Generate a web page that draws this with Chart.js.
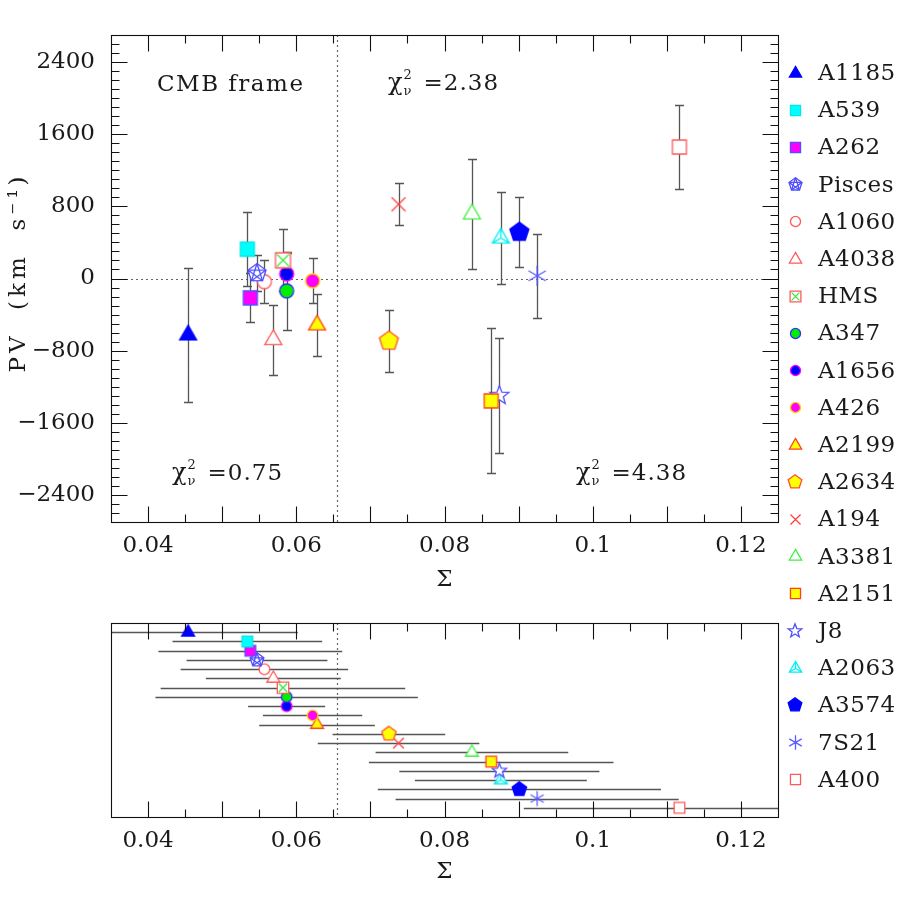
<!DOCTYPE html>
<html><head><meta charset="utf-8">
<script src="https://cdn.jsdelivr.net/npm/chart.js@4"></script>
<style>
html,body{margin:0;padding:0;background:#fff;}
#wrap{position:relative;width:900px;height:900px;background:#fff;}
#topBox{position:absolute;left:0;top:0;width:900px;height:900px;}
#botBox{position:absolute;left:0;top:600px;width:900px;height:300px;}
</style></head><body>
<div id="wrap">
  <div id="topBox"><canvas id="topChart" width="900" height="900"></canvas></div>
  <div id="botBox"><canvas id="botChart" width="900" height="300"></canvas></div>
</div>
<script>
// ---------------- DATA ----------------
const clusters = ['A1185','A539','A262','Pisces','A1060','A4038','HMS','A347','A1656','A426',
                  'A2199','A2634','A194','A3381','A2151','J8','A2063','A3574','7S21','A400'];
const sigma    = [0.0454,0.0534,0.0538,0.0547,0.0557,0.0569,0.0582,0.0587,0.0587,0.0622,
                  0.0628,0.0725,0.0738,0.0837,0.0863,0.0874,0.0876,0.0901,0.0925,0.1117];
const sigmaErr = [0.0148,0.0101,0.0124,0.0095,0.0113,0.0091,0.0165,0.0177,0.0052,0.0067,
                  0.0078,0.0076,0.0109,0.0130,0.0165,0.0135,0.0116,0.0191,0.0191,0.0210];
const pv       = [-627,325,-215,60,-35,-679,202,-137,51,-26,
                  -516,-693,823,715,-1357,-1298,448,514,30,1458];
const pvErr    = [740,413,272,200,241,387,343,435,230,250,
                  340,347,234,608,803,641,514,389,468,462];
const rank     = [1,2,3,4,5,6,7,8,9,10,11,12,13,14,15,16,17,18,19,20];
const xTickLabels = [0.04,0.06,0.08,0.1,0.12];
const yTickLabels = [-2400,-1600,-800,0,800,1600,2400];
const sigmaCut = 0.0655;
const chiLabels = ['0.75','2.38','4.38'];

// ---------------- STYLE ----------------
const FAM = "'DejaVu Serif', serif";
const TXT = '#1a1a1a';
const markerStyles = [
 {shape:'tri', size:17, fill:'#0000ff', stroke:'#0000ff'},
 {shape:'sq',  size:14, fill:'#00ffff', stroke:'#00e8e8'},
 {shape:'sq',  size:14, fill:'#ff00ff', stroke:'#5050ff'},
 {shape:'pent',size:18, fill:'#ffffff', stroke:'#4f4fff', inner:true},
 {shape:'circ',size:14, fill:'#ffffff', stroke:'#ff5a5a'},
 {shape:'tri', size:17, fill:'#ffffff', stroke:'#ff5a5a'},
 {shape:'sq',  size:15, fill:'#ffffff', stroke:'#ff5a5a', cross:'#3ce83c'},
 {shape:'circ',size:14, fill:'#00ee00', stroke:'#3030ff'},
 {shape:'circ',size:14, fill:'#0000ff', stroke:'#ff00ff'},
 {shape:'circ',size:14, fill:'#ff00ff', stroke:'#ffd000'},
 {shape:'tri', size:17, fill:'#ffff00', stroke:'#ff4020'},
 {shape:'pent',size:19, fill:'#ffff00', stroke:'#ff5030'},
 {shape:'x',   size:14, stroke:'#ff4040'},
 {shape:'tri', size:17, fill:'#ffffff', stroke:'#40f040'},
 {shape:'sq',  size:14, fill:'#ffff00', stroke:'#ff4020'},
 {shape:'star',size:19, fill:'#ffffff', stroke:'#4f4fff'},
 {shape:'tri', size:17, fill:'#ffffff', stroke:'#00f0f0', inner:true},
 {shape:'pent',size:19, fill:'#0000ff', stroke:'#0000ff'},
 {shape:'ast', size:20, stroke:'#5a5aff'},
 {shape:'sq',  size:14, fill:'#ffffff', stroke:'#ff5a5a'}
];

function makeMarker(spec, scale){
  const s = spec.size*scale;
  const lw = 1.3;
  const dim = Math.ceil(s + 8);
  const c = document.createElement('canvas'); c.width = c.height = dim;
  const g = c.getContext('2d');
  const cx = dim/2, cy = dim/2, r = s/2;
  g.lineWidth = lw; g.strokeStyle = spec.stroke; g.fillStyle = spec.fill || '#fff';
  const pts = (n, R, start) => { const a=[]; for(let k=0;k<n;k++){const t=(start+k*360/n)*Math.PI/180; a.push([cx+R*Math.cos(t), cy+R*Math.sin(t)]);} return a; };
  const polyPath = (p) => { g.beginPath(); g.moveTo(p[0][0],p[0][1]); for(let k=1;k<p.length;k++) g.lineTo(p[k][0],p[k][1]); g.closePath(); };
  if (spec.shape==='tri'){
    const p = pts(3, s/Math.sqrt(3), -90); polyPath(p); g.fill(); g.stroke();
    if (spec.inner){ g.beginPath(); p.forEach(q=>{g.moveTo(cx,cy); g.lineTo(q[0],q[1]);}); g.stroke(); }
  } else if (spec.shape==='sq'){
    g.beginPath(); g.rect(cx-r, cy-r, s, s); g.fill(); g.stroke();
    if (spec.cross){ g.strokeStyle = spec.cross; g.beginPath(); g.moveTo(cx-r+1.5,cy-r+1.5); g.lineTo(cx+r-1.5,cy+r-1.5); g.moveTo(cx+r-1.5,cy-r+1.5); g.lineTo(cx-r+1.5,cy+r-1.5); g.stroke(); }
  } else if (spec.shape==='circ'){
    g.beginPath(); g.arc(cx,cy,r,0,Math.PI*2); g.fill(); g.stroke();
  } else if (spec.shape==='pent'){
    const R = s/(2*Math.sin(72*Math.PI/180));
    const p = pts(5, R, -90); polyPath(p); g.fill(); g.stroke();
    if (spec.inner){ g.beginPath(); for(let k=0;k<5;k++){const a=p[k], b=p[(k+2)%5]; g.moveTo(a[0],a[1]); g.lineTo(b[0],b[1]);} g.stroke(); }
  } else if (spec.shape==='star'){
    const R = r*1.05, p=[];
    for(let k=0;k<10;k++){const t=(-90+k*36)*Math.PI/180; const rr = k%2? R*0.42 : R; p.push([cx+rr*Math.cos(t), cy+rr*Math.sin(t)]);}
    polyPath(p); g.fill(); g.stroke();
  } else if (spec.shape==='x'){
    g.beginPath(); g.moveTo(cx-r,cy-r); g.lineTo(cx+r,cy+r); g.moveTo(cx+r,cy-r); g.lineTo(cx-r,cy+r); g.stroke();
  } else if (spec.shape==='ast'){
    g.beginPath();
    [90,30,-30].forEach(d=>{const t=d*Math.PI/180; g.moveTo(cx-r*Math.cos(t), cy-r*Math.sin(t)); g.lineTo(cx+r*Math.cos(t), cy+r*Math.sin(t));});
    g.stroke();
  }
  return c;
}
const bigMarkers   = markerStyles.map(m=>makeMarker(m,1.0));
const smallMarkers = markerStyles.map(m=>makeMarker(m,0.76));
const legMarkers   = markerStyles.map(m=>makeMarker(m,0.72));

Chart.defaults.font.family = FAM;
Chart.defaults.font.size = 23;
Chart.defaults.color = TXT;

const fmtX = v => String(Math.round(v*100)/100);
const fmtY = v => v<0 ? '\u2212'+Math.abs(v) : String(v);

// frame + inward ticks
function drawFrame(chart, withY){
  const {ctx, chartArea:a, scales:{x,y}} = chart;
  ctx.save();
  ctx.strokeStyle = '#111'; ctx.lineWidth = 1.1;
  const L=Math.round(a.left)+0.5, R=Math.round(a.right)+0.5, T=Math.round(a.top)+0.5, B=Math.round(a.bottom)+0.5;
  ctx.strokeRect(L, T, R-L, B-T);
  ctx.beginPath();
  for(let k=8;k<=24;k++){
    const px = Math.round(x.getPixelForValue(k*0.005))+0.5;
    const len = (k%2===0) ? 16 : 8;
    ctx.moveTo(px,B); ctx.lineTo(px,B-len);
    ctx.moveTo(px,T); ctx.lineTo(px,T+len);
  }
  if (withY){
    for(let k=-26;k<=26;k++){
      const py = Math.round(y.getPixelForValue(k*100))+0.5;
      const len = (k%8===0) ? 16 : 8;
      ctx.moveTo(L,py); ctx.lineTo(L+len,py);
      ctx.moveTo(R,py); ctx.lineTo(R-len,py);
    }
  }
  ctx.stroke();
  ctx.restore();
}
function dotted(ctx, x1,y1,x2,y2){
  ctx.save(); ctx.strokeStyle='#666'; ctx.lineWidth=1.2; ctx.setLineDash([2,3]);
  ctx.beginPath(); ctx.moveTo(x1,y1); ctx.lineTo(x2,y2); ctx.stroke(); ctx.restore();
}
function drawChi(ctx, x, yMid, val){
  ctx.save(); ctx.fillStyle = TXT; ctx.textAlign='left'; ctx.textBaseline='alphabetic';
  const base = yMid + 8;
  ctx.font = "24px "+FAM; ctx.fillText('\u03C7', x, base);
  const w = ctx.measureText('\u03C7').width;
  ctx.font = "13px "+FAM;
  ctx.fillText('2', x+w+1, base-11);
  ctx.fillText('\u03BD', x+w+1, base+5);
  ctx.font = "23px "+FAM;
  ctx.letterSpacing = '1px';
  ctx.fillText('='+val, x+w+21, base);
  ctx.restore();
}

const topPlugin = {
  id:'topDecor',
  beforeDatasetsDraw(chart){
    const {ctx, chartArea:a, scales:{x,y}} = chart;
    const y0 = Math.round(y.getPixelForValue(0))+0.5;
    const xc = Math.round(x.getPixelForValue(sigmaCut))+0.5;
    dotted(ctx, a.left, y0, a.right, y0);
    dotted(ctx, xc, a.top, xc, a.bottom);
    ctx.save();
    ctx.beginPath(); ctx.rect(a.left,a.top,a.width,a.height); ctx.clip();
    ctx.strokeStyle='#555'; ctx.lineWidth=1.3;
    ctx.beginPath();
    for(let i=0;i<clusters.length;i++){
      const px = Math.round(x.getPixelForValue(sigma[i]))+0.5;
      const yt = Math.round(y.getPixelForValue(pv[i]+pvErr[i]))+0.5;
      const yb = Math.round(y.getPixelForValue(pv[i]-pvErr[i]))+0.5;
      ctx.moveTo(px,yt); ctx.lineTo(px,yb);
      ctx.moveTo(px-4.5,yt); ctx.lineTo(px+4.5,yt);
      ctx.moveTo(px-4.5,yb); ctx.lineTo(px+4.5,yb);
    }
    ctx.stroke();
    ctx.restore();
  },
  afterDraw(chart){
    const {ctx, chartArea:a} = chart;
    drawFrame(chart, true);
    ctx.save(); ctx.fillStyle=TXT; ctx.font="23px "+FAM; ctx.textAlign='left'; ctx.textBaseline='middle';
    ctx.letterSpacing = '1.5px';
    ctx.fillText('CMB frame', a.left+46, a.top+50);
    ctx.restore();
    drawChi(ctx, a.left+277, a.top+47, chiLabels[1]);
    drawChi(ctx, a.left+61,  a.top+437, chiLabels[0]);
    drawChi(ctx, a.left+465, a.top+437, chiLabels[2]);
    // y-axis title
    ctx.save(); ctx.fillStyle=TXT; ctx.font="23px "+FAM; ctx.textAlign='center'; ctx.textBaseline='middle';
    ctx.letterSpacing = '4px';
    ctx.translate(19, (a.top+a.bottom)/2-6); ctx.rotate(-Math.PI/2);
    ctx.fillText('PV  (km  s\u207B\u00B9)', 0, 0);
    ctx.restore();
    // legend
    ctx.save(); ctx.fillStyle=TXT; ctx.font="23px "+FAM; ctx.textAlign='left'; ctx.textBaseline='middle';
    ctx.letterSpacing = '0.5px';
    for(let i=0;i<clusters.length;i++){
      const yy = 73 + i*37.2;
      const m = legMarkers[i];
      ctx.drawImage(m, Math.round(795 - m.width/2), Math.round(yy - m.height/2));
      ctx.fillText(clusters[i], 818, yy+1);
    }
    ctx.restore();
  }
};

const botPlugin = {
  id:'botDecor',
  beforeDatasetsDraw(chart){
    const {ctx, chartArea:a, scales:{x,y}} = chart;
    const xc = Math.round(x.getPixelForValue(sigmaCut))+0.5;
    dotted(ctx, xc, a.top, xc, a.bottom);
    ctx.save();
    ctx.beginPath(); ctx.rect(a.left,a.top,a.width,a.height); ctx.clip();
    ctx.strokeStyle='#555'; ctx.lineWidth=1.3;
    ctx.beginPath();
    for(let i=0;i<clusters.length;i++){
      const py = Math.round(y.getPixelForValue(rank[i]))+0.5;
      ctx.moveTo(x.getPixelForValue(sigma[i]-sigmaErr[i]), py);
      ctx.lineTo(x.getPixelForValue(sigma[i]+sigmaErr[i]), py);
    }
    ctx.stroke();
    ctx.restore();
  },
  afterDraw(chart){ drawFrame(chart, false); }
};

function xScale(height, titlePad){
  return {
    type:'linear', min:0.035, max:0.125,
    afterBuildTicks: s => { s.ticks = xTickLabels.map(v=>({value:v})); },
    ticks:{ padding:10, callback: v=>fmtX(v), maxRotation:0, autoSkip:false, color:TXT },
    grid:{ display:false, drawTicks:false }, border:{ display:false },
    title:{ display:true, text:'\u03A3', color:TXT, padding:{top:0,bottom:titlePad} },
    afterFit: s => { s.height = height; }
  };
}

new Chart(document.getElementById('topChart'), {
  type:'scatter',
  data:{ datasets: clusters.map((n,i)=>({ label:n, data:[{x:sigma[i], y:pv[i]}], pointStyle:bigMarkers[i], pointRadius:8 })) },
  options:{
    responsive:false, animation:false, devicePixelRatio:1, events:[],
    layout:{ padding:{ left:0, top:35, right:122, bottom:300 } },
    plugins:{ legend:{display:false}, tooltip:{enabled:false} },
    scales:{
      x: xScale(78, 6),
      y: {
        type:'linear', min:-2700, max:2700,
        afterBuildTicks: s => { s.ticks = yTickLabels.map(v=>({value:v})); },
        ticks:{ padding:16, callback: v=>fmtY(v), color:TXT },
        grid:{ display:false, drawTicks:false }, border:{ display:false },
        title:{ display:false, text:'PV (km s\u207B\u00B9)' },
        afterFit: s => { s.width = 111; }
      }
    }
  },
  plugins:[topPlugin]
});

new Chart(document.getElementById('botChart'), {
  type:'scatter',
  data:{ datasets: clusters.map((n,i)=>({ label:n, data:[{x:sigma[i], y:rank[i]}], pointStyle:smallMarkers[i], pointRadius:6 })) },
  options:{
    responsive:false, animation:false, devicePixelRatio:1, events:[],
    layout:{ padding:{ left:0, top:23, right:122, bottom:0 } },
    plugins:{ legend:{display:false}, tooltip:{enabled:false} },
    scales:{
      x: xScale(83, 14),
      y: {
        type:'linear', min:0, max:21, reverse:true,
        ticks:{ display:false }, grid:{ display:false, drawTicks:false }, border:{ display:false },
        afterFit: s => { s.width = 111; }
      }
    }
  },
  plugins:[botPlugin]
});
</script>
</body></html>
